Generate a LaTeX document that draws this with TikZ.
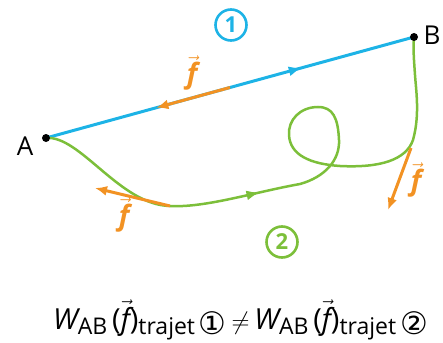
\documentclass[tikz,border=0pt]{standalone}
\usepackage{fontspec}
\setmainfont{Open Sans}
\newfontfamily\symfont{DejaVu Sans}
\usetikzlibrary{arrows.meta,calc,decorations.markings}
\definecolor{route1}{HTML}{1DB3E6}
\definecolor{route2}{HTML}{7CBF3A}
\definecolor{force}{HTML}{F29223}
\newcommand{\fvec}{$\vec{\textit{f}}$}
\newcommand{\sub}[1]{\raisebox{-5pt}{\fontsize{23}{25}\selectfont #1}}
\newcommand{\circnum}[1]{{\symfont\fontsize{31}{31}\selectfont #1}}

\begin{document}
\begin{tikzpicture}[x=1pt,y=-1pt,
  font=\fontsize{26}{30}\selectfont,
  pt/.style={circle,fill=black,inner sep=0pt,minimum size=8pt},
  num/.style={circle,draw,line width=2.6pt,inner sep=0pt,minimum size=31pt,font=\fontsize{22}{24}\selectfont\bfseries},
  arr/.style={-{Latex[length=12pt,width=10pt]},line width=3pt,color=force},
  mid/.style={postaction={decorate},decoration={markings,mark=at position #1 with {\arrow{Latex[length=13pt,width=10pt]}}}},
  flab/.style={text=force,font=\fontsize{28}{30}\selectfont\bfseries}]
\useasboundingbox (0,0) rectangle (443,342);
\coordinate (A) at (46,138);
\coordinate (B) at (414,37);
% route 1
\draw[route1,line width=3pt,mid=0.695] (A) -- (B);
\coordinate (f1s) at ($(A)!0.5!(B)$);
\coordinate (f1e) at ($(A)!0.3!(B)$);
\draw[arr] (f1s) -- (f1e);
% route 2
\draw[route2,line width=2.5pt,mid=0.345] (A) .. controls (80,135) and (120,205) .. (170,206) coordinate (f2s)
  .. controls (205,208) and (255,192) .. (300,184)
  .. controls (325,177) and (340,160) .. (339,140)
  .. controls (338,118) and (333,107) .. (318,107)
  .. controls (300,107) and (288,120) .. (289,135)
  .. controls (290,155) and (310,164) .. (340,166)
  .. controls (380,168) and (406,160) .. (413,140)
  .. controls (420,115) and (416,90) .. (415,75)
  .. controls (414,60) and (413,50) .. (B);
\coordinate (f2e) at (95,188);
\coordinate (f3s) at (411,148);
\coordinate (f3e) at (388,210);
\draw[arr] (f2s) -- (f2e);
\draw[arr] (f3s) -- (f3e);
% points and labels
\node[pt] (dotA) at (A) {};
\node[pt] (dotB) at (B) {};
\node (labA) at (25,146) {A};
\node (labB) at (432,35) {B};
\node[flab] (lab1) at (192,73) {\fvec};
\node[flab] (lab2) at (124,215) {\fvec};
\node[flab] (lab3) at (416,180) {\fvec};
\node[num,draw=route1,text=route1] (n1) at (231,25) {1};
\node[num,draw=route2,text=route2] (n2) at (282,242) {2};
\node[font=\fontsize{29}{32}\selectfont,anchor=base west,inner sep=0pt] (eq) at (53,329) {{\itshape W}\sub{AB}\,(\fvec)\sub{trajet\,\circnum{①}}\,$\neq$\,{\itshape W}\sub{AB}\,(\fvec)\sub{trajet\,\circnum{②}}};
\end{tikzpicture}
\end{document}
